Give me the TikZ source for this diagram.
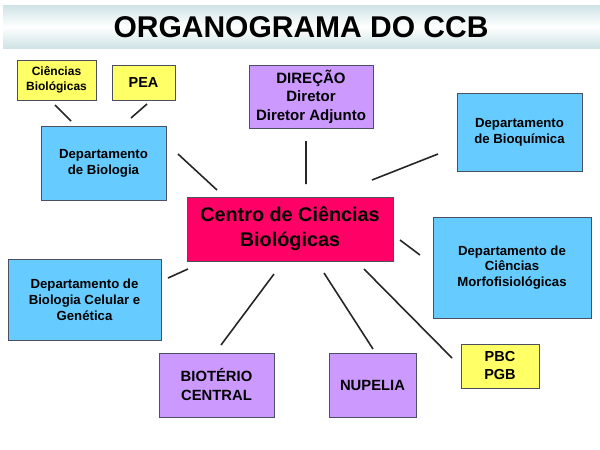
\documentclass[tikz,border=0pt]{standalone}
\usepackage{fontspec}
\setmainfont{Liberation Sans}
\usepackage{tikz}

\definecolor{amarelo}{HTML}{FFFF66}
\definecolor{azul}{HTML}{66CCFF}
\definecolor{lilas}{HTML}{CC99FF}
\definecolor{rosa}{HTML}{FF0066}
\definecolor{borda}{HTML}{4A5060}
\definecolor{faixa}{HTML}{CFE3E6}

\begin{document}
\begin{tikzpicture}[x=1pt,y=-1pt,
    every node/.style={draw=borda,line width=0.8pt,align=center,inner sep=0,font=\bfseries},
    amar/.style={fill=amarelo},
    dep/.style={fill=azul,font=\bfseries\fontsize{13.2}{15.8}\selectfont},
    lil/.style={fill=lilas,font=\bfseries\fontsize{14.8}{19}\selectfont},
    liga/.style={line width=1.6pt,black!85}]
        \useasboundingbox (0,0) rectangle (600,450);
        \shade[top color=faixa,bottom color=faixa,middle color=white] (3,5) rectangle (600,48);
        \node[draw=none,font=\bfseries\fontsize{30}{34}\selectfont] (titulo) at (301,27) {ORGANOGRAMA DO CCB};
        \node[amar,minimum width=79pt,minimum height=40pt,font=\bfseries\fontsize{12}{15}\selectfont] (cb) at (56.5,80) {Ciências\\Biológicas};
        \node[amar,minimum width=63pt,minimum height=35pt,font=\bfseries\fontsize{14.5}{17}\selectfont] (pea) at (143.5,82.5) {PEA};
        \node[dep,minimum width=125pt,minimum height=74pt] (dbio) at (103.5,163) {Departamento\\de Biologia};
        \node[lil,minimum width=124pt,minimum height=63pt,font=\bfseries\fontsize{15}{18.5}\selectfont] (dir) at (311,96.5) {DIREÇÃO\\Diretor\\Diretor Adjunto};
        \node[dep,minimum width=125pt,minimum height=78pt] (dbq) at (519.5,132) {Departamento\\de Bioquímica};
        \node[fill=rosa,minimum width=206pt,minimum height=64pt,font=\bfseries\fontsize{19.8}{25}\selectfont] (ccb) at (290,229) {Centro de Ciências\\Biológicas};
        \node[dep,minimum width=153pt,minimum height=81pt] (dbcg) at (84.5,299.5) {Departamento de\\Biologia Celular e\\Genética};
        \node[dep,minimum width=158pt,minimum height=101pt] (dmf) at (512,267.5) {Departamento de\\Ciências\\Morfofisiológicas};
        \node[lil,minimum width=115pt,minimum height=64pt] (biot) at (216.5,385) {BIOTÉRIO\\CENTRAL};
        \node[lil,minimum width=87pt,minimum height=64pt] (nup) at (372.5,385) {NUPELIA};
        \node[amar,minimum width=78pt,minimum height=44pt,font=\bfseries\fontsize{14.5}{18}\selectfont] (pbc) at (500,366) {PBC\\PGB};
        \coordinate (cb1) at (55,105);   \coordinate (cb2) at (71,121);
        \coordinate (pea1) at (147,104); \coordinate (pea2) at (131,118);
        \coordinate (bio1) at (178,154); \coordinate (bio2) at (217,190);
        \coordinate (dir1) at (306,141); \coordinate (dir2) at (306,184);
        \coordinate (bq1) at (372,180);  \coordinate (bq2) at (438,154);
        \coordinate (bcg1) at (168,278); \coordinate (bcg2) at (188,269);
        \coordinate (mf1) at (400,240);  \coordinate (mf2) at (420,255);
        \coordinate (bt1) at (274,274);  \coordinate (bt2) at (221,345);
        \coordinate (np1) at (324,273);  \coordinate (np2) at (373,349);
        \coordinate (pb1) at (364,269);  \coordinate (pb2) at (452,358);
        \draw[liga] (cb1) -- (cb2) (pea1) -- (pea2) (bio1) -- (bio2) (dir1) -- (dir2) (bq1) -- (bq2);
        \draw[liga] (bcg1) -- (bcg2) (mf1) -- (mf2) (bt1) -- (bt2) (np1) -- (np2) (pb1) -- (pb2);
      \end{tikzpicture}
\end{document}
